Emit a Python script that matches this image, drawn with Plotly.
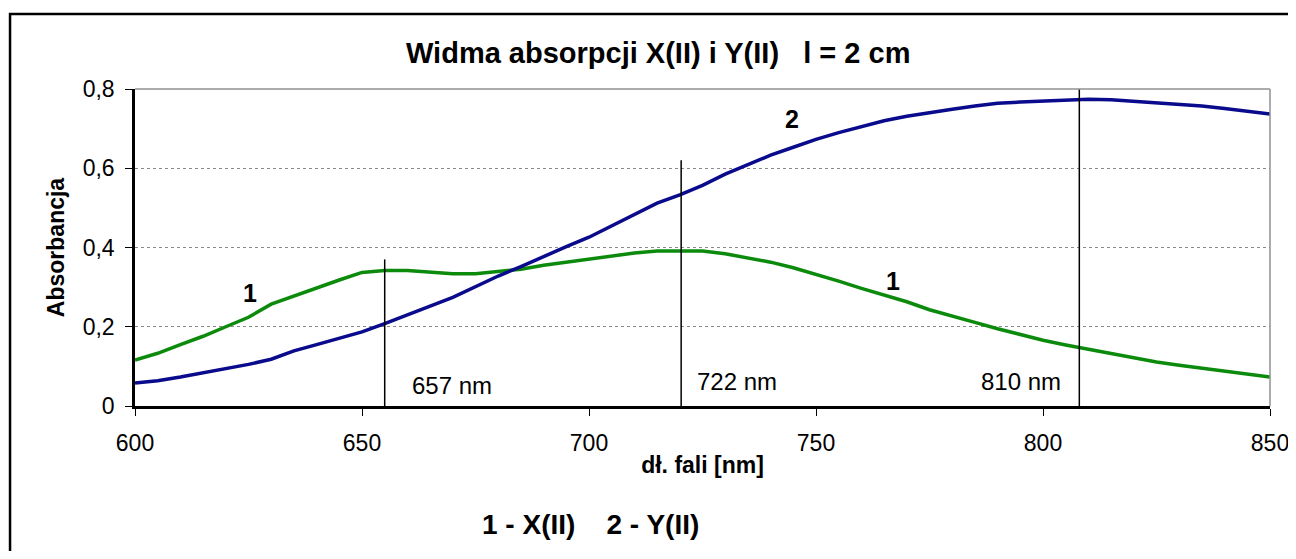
import plotly.graph_objects as go

# ---- data ----
wavelength = [600, 605, 610, 615, 620, 625, 630, 635, 640, 645, 650, 655, 660, 665, 670,
              675, 680, 685, 690, 695, 700, 705, 710, 715, 720, 725, 730, 735, 740, 745,
              750, 755, 760, 765, 770, 775, 780, 785, 790, 795, 800, 805, 810, 815, 820,
              825, 830, 835, 840, 845, 850]

absorb_x = [0.116, 0.133, 0.155, 0.176, 0.200, 0.224, 0.257, 0.278, 0.298, 0.318, 0.337,
            0.342, 0.342, 0.337, 0.334, 0.334, 0.339, 0.345, 0.355, 0.363, 0.372, 0.379,
            0.386, 0.391, 0.392, 0.391, 0.384, 0.374, 0.363, 0.349, 0.333, 0.315, 0.297,
            0.280, 0.263, 0.243, 0.228, 0.211, 0.195, 0.180, 0.166, 0.154, 0.143, 0.131,
            0.120, 0.111, 0.103, 0.095, 0.087, 0.080, 0.073]

absorb_y = [0.058, 0.064, 0.073, 0.083, 0.094, 0.105, 0.118, 0.139, 0.155, 0.170, 0.187,
            0.208, 0.231, 0.252, 0.274, 0.301, 0.328, 0.352, 0.378, 0.402, 0.426, 0.455,
            0.485, 0.512, 0.533, 0.557, 0.585, 0.610, 0.633, 0.653, 0.673, 0.690, 0.706,
            0.720, 0.731, 0.741, 0.749, 0.757, 0.764, 0.767, 0.770, 0.773, 0.774, 0.773,
            0.769, 0.766, 0.762, 0.757, 0.751, 0.745, 0.737]

marker_lines_x = [655, 720.3, 808]
marker_lines_top = [0.37, 0.62, 0.8]
marker_labels = ["657 nm", "722 nm", "810 nm"]
marker_label_x = [660.5, 723.3, 804.5]
marker_label_y = [0.053, 0.063, 0.063]
marker_label_anchor = ["left", "left", "right"]

curve_labels = ["1", "1", "2"]
curve_label_x = [625.3, 767, 744.7]
curve_label_y = [0.286, 0.316, 0.724]

y_ticks = [0, 0.2, 0.4, 0.6, 0.8]
y_tick_text = ["0", "0,2", "0,4", "0,6", "0,8"]
x_ticks = [600, 650, 700, 750, 800, 850]

FONT = "Liberation Sans, Arial, sans-serif"

fig = go.Figure()
fig.add_trace(go.Scatter(x=wavelength, y=absorb_x, mode="lines", name="1 - X(II)",
                         line=dict(color="#0c8a0c", width=3.5)))
fig.add_trace(go.Scatter(x=wavelength, y=absorb_y, mode="lines", name="2 - Y(II)",
                         line=dict(color="#0a0a8c", width=3.5)))

shapes = []
for lx, top in zip(marker_lines_x, marker_lines_top):
    shapes.append(dict(type="line", xref="x", yref="y", x0=lx, x1=lx, y0=0, y1=top,
                       line=dict(color="black", width=1.5)))
# outer chart border
shapes.append(dict(type="rect", xref="paper", yref="paper",
                   x0=-0.1101, x1=1.1, y0=-0.7, y1=1.2366,
                   line=dict(color="black", width=2.5), layer="below"))
# plot area right and top border (gray)
shapes.append(dict(type="line", xref="paper", yref="paper", x0=1, x1=1, y0=0, y1=1,
                   line=dict(color="#909090", width=1.5)))
shapes.append(dict(type="line", xref="paper", yref="paper", x0=0, x1=1, y0=1, y1=1,
                   line=dict(color="#909090", width=1.5)))

annotations = []
for t, ax_, ay_, anc in zip(marker_labels, marker_label_x, marker_label_y, marker_label_anchor):
    annotations.append(dict(x=ax_, y=ay_, xref="x", yref="y", text=t, showarrow=False,
                            xanchor=anc, yanchor="middle",
                            font=dict(family=FONT, size=24, color="black")))
for t, ax_, ay_ in zip(curve_labels, curve_label_x, curve_label_y):
    annotations.append(dict(x=ax_, y=ay_, xref="x", yref="y", text="<b>" + t + "</b>",
                            showarrow=False, yanchor="middle",
                            font=dict(family=FONT, size=25, color="black")))
annotations.append(dict(x=0.461, y=1.1136, xref="paper", yref="paper",
                        text="<b>Widma absorpcji X(II) i Y(II)   l = 2 cm</b>",
                        showarrow=False, xanchor="center", yanchor="middle",
                        font=dict(family=FONT, size=29, color="black")))
annotations.append(dict(x=0.401, y=-0.375, xref="paper", yref="paper",
                        text="<b>1 - X(II)    2 - Y(II)</b>",
                        showarrow=False, xanchor="center", yanchor="middle",
                        font=dict(family=FONT, size=28, color="black")))

fig.update_layout(
    width=1288, height=543,
    margin=dict(l=127, r=26, t=81, b=145, autoexpand=False),
    paper_bgcolor="white", plot_bgcolor="white",
    showlegend=False,
    font=dict(family=FONT, size=24, color="black"),
    shapes=shapes, annotations=annotations,
    xaxis=dict(range=[600, 850], tickvals=x_ticks, ticks="outside", ticklen=7,
               tickcolor="black", showline=True, linecolor="black", linewidth=2.5,
               showgrid=False, zeroline=False, mirror=False, automargin=False,
               ticklabelstandoff=8,
               tickfont=dict(family=FONT, size=23),
               title=dict(text="<b>dł. fali [nm]</b>", standoff=2,
                          font=dict(family=FONT, size=23))),
    yaxis=dict(range=[0, 0.8], tickvals=y_ticks, ticktext=y_tick_text, ticks="outside",
               ticklen=7, tickcolor="black", showline=True, linecolor="black", linewidth=2.5,
               showgrid=True, gridcolor="#8a8a8a", griddash="dot", gridwidth=1,
               zeroline=False, automargin=False, tickfont=dict(family=FONT, size=23),
               ticklabelstandoff=6,
               title=dict(text="<b>Absorbancja</b>", standoff=12,
                          font=dict(family=FONT, size=23))),
)

fig.write_html("out.html")
